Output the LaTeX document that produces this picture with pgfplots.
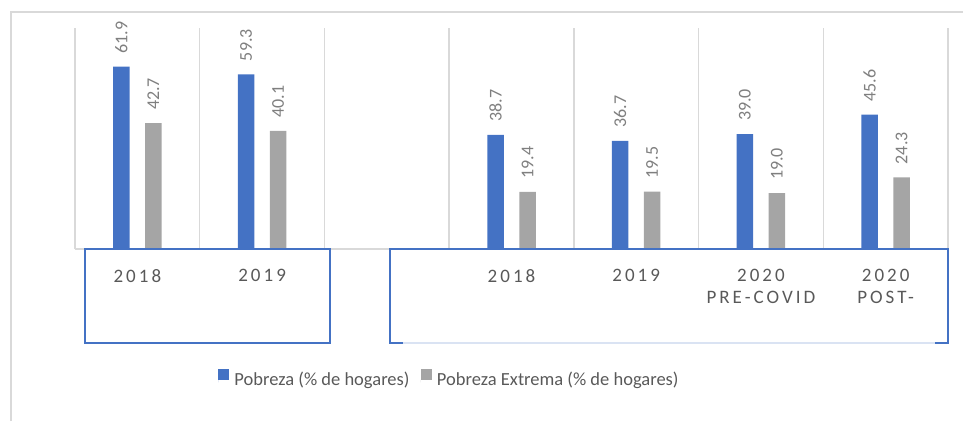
\documentclass[border=0pt]{standalone}
\usepackage{pgfplots}
\pgfplotsset{compat=1.18}
\usepackage{fontspec}
\setmainfont{Carlito}
\newfontfamily\tickfont[LetterSpace=16]{Carlito}
\definecolor{cblue}{HTML}{4472C4}
\definecolor{cgray}{HTML}{A5A5A5}
\definecolor{gridc}{HTML}{D9D9D9}
\definecolor{txt}{HTML}{595959}
\definecolor{lbl}{HTML}{7F7F7F}
\definecolor{lightblue}{HTML}{DAE3F3}
\begin{document}
\begin{tikzpicture}
\useasboundingbox (0,0) rectangle (963pt,421pt);
\draw[gridc, line width=1.5pt] (11pt,0) -- (11pt,409pt) -- (963pt,409pt);
\begin{axis}[
 at={(75pt,172pt)}, anchor=south west,
 scale only axis, width=873pt, height=221pt,
 xmin=-0.5, xmax=6.5, ymin=0, ymax=75,
 clip=false,
 axis line style={draw=none},
 ytick=\empty,
 xtick={0,1,3,4,5,6},
 xticklabels={2018,2019,2018,2019,{2020\\PRE-COVID},{2020\\POST-}},
 minor xtick={-0.5,0.5,...,6.5},
 xminorgrids=true, minor grid style={gridc, line width=1.3pt},
 major tick length=0pt, minor tick length=0pt,
 xticklabel style={anchor=north, inner sep=0pt, yshift=-20pt, align=center, font=\tickfont\fontsize{19}{22.3}\selectfont, text=txt},
 ybar, bar width=16.5pt,
 nodes near coords={\pgfmathprintnumber[fixed,fixed zerofill,precision=1,assume math mode=true]{\pgfplotspointmeta}},
 every node near coord/.append style={rotate=90, anchor=west, inner xsep=13pt, inner ysep=0pt, font=\fontsize{18}{20}\selectfont, text=lbl},
 legend style={draw=none, fill=none, at={(axis cs:2.515,-44.1)}, anchor=center, legend columns=-1, font=\fontsize{18.5}{22}\selectfont, text=txt, /tikz/every even column/.append style={column sep=6.5pt}, nodes={inner xsep=5pt}},
 legend image code/.code={\fill[#1] (0pt,0pt) rectangle (11pt,11pt); \path (0pt,-2.8pt) rectangle (0pt,0pt);},
]
\addplot[fill=cblue, draw=none, bar shift=-16pt] coordinates {(0,61.9) (1,59.3) (3,38.7) (4,36.7) (5,39.0) (6,45.6)};
\addplot[fill=cgray, draw=none, bar shift=16pt] coordinates {(0,42.7) (1,40.1) (3,19.4) (4,19.5) (5,19.0) (6,24.3)};
\legend{Pobreza (\% de hogares), Pobreza Extrema (\% de hogares)}
\draw[gridc, line width=1.3pt] (axis cs:-0.5,0) -- (axis cs:6.5,0);
\draw[cblue, line width=1.2pt] (axis cs:-0.4198,0) rectangle (axis cs:1.5447,-31.9);
\draw[lightblue, line width=1.2pt] (axis cs:2.130,-31.9) -- (axis cs:6.396,-31.9);
\draw[cblue, line width=1.2pt] (axis cs:2.130,-31.9) -| (axis cs:2.0258,0) -| (axis cs:6.5,-31.9) -- (axis cs:6.396,-31.9);
\end{axis}
\end{tikzpicture}
\end{document}
